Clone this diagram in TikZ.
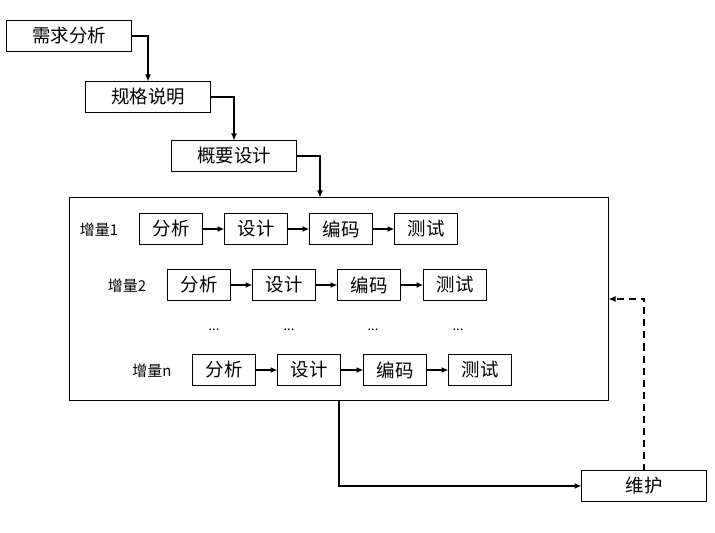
\documentclass[tikz,border=0pt]{standalone}
\usepackage{fontspec}
\setmainfont{Noto Sans CJK SC}
\usetikzlibrary{arrows.meta}
\begin{document}
\begin{tikzpicture}[x=1bp,y=-1bp,
 box/.style={draw, line width=1bp, minimum width=63bp, minimum height=31bp, inner sep=0pt, outer sep=0pt, font=\fontsize{18.5}{18.5}\selectfont},
 topbox/.style={box, minimum width=125bp},
 arr/.style={-{Latex[length=7bp,width=6bp]}, line width=2bp},
 lab/.style={font=\fontsize{15}{15}\selectfont, inner sep=0pt},
 dotlab/.style={font=\fontsize{13}{13}\selectfont, inner sep=0pt}]
\useasboundingbox (0,0) rectangle (715,533);
\node[topbox] (n1) at (69,36) {需求分析};
\node[topbox] (n2) at (148,97) {规格说明};
\node[topbox] (n3) at (234,156) {概要设计};
\node[draw, line width=1bp, minimum width=539bp, minimum height=203bp, inner sep=0pt, outer sep=0pt] (cont) at (339,299) {};
\coordinate (c1) at (320,197.5);
% row 1
\node[lab] (l1) at (99,230) {增量1};
\node[box] (a1) at (171,229) {分析};
\node[box] (b1) at (256,229) {设计};
\node[box] (c1b) at (341,229) {编码};
\node[box] (d1) at (426,229) {测试};
% row 2
\node[lab] (l2) at (127,286) {增量2};
\node[box] (a2) at (199,285) {分析};
\node[box] (b2) at (284,285) {设计};
\node[box] (c2) at (369,285) {编码};
\node[box] (d2) at (455,285) {测试};
% dots
\node[dotlab] (e1) at (214,330) {...};
\node[dotlab] (e2) at (289,330) {...};
\node[dotlab] (e3) at (373,330) {...};
\node[dotlab] (e4) at (458,330) {...};
% row n
\node[lab] (l3) at (152,371) {增量n};
\node[box] (a3) at (224,370) {分析};
\node[box] (b3) at (309,370) {设计};
\node[box] (c3) at (395,370) {编码};
\node[box] (d3) at (480,370) {测试};
% maintenance
\node[topbox] (wh) at (644,486) {维护};
% arrows
\draw[arr] (n1.east) -| (n2.north);
\draw[arr] (n2.east) -| (n3.north);
\draw[arr] (n3.east) -| (c1);
\draw[arr] (a1.east) -- (b1.west);
\draw[arr] (b1.east) -- (c1b.west);
\draw[arr] (c1b.east) -- (d1.west);
\draw[arr] (a2.east) -- (b2.west);
\draw[arr] (b2.east) -- (c2.west);
\draw[arr] (c2.east) -- (d2.west);
\draw[arr] (a3.east) -- (b3.west);
\draw[arr] (b3.east) -- (c3.west);
\draw[arr] (c3.east) -- (d3.west);
\draw[arr] (cont.south) |- (wh.west);
\draw[arr, dash pattern=on 7bp off 5bp] (wh.north) |- (cont.east);
\end{tikzpicture}
\end{document}
